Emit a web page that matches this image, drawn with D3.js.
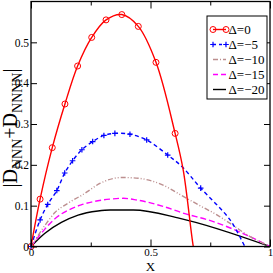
<!DOCTYPE html>
<html>
<head>
<meta charset="utf-8">
<script src="https://cdn.jsdelivr.net/npm/d3@7"></script>
<style>
  html, body { margin: 0; padding: 0; background: #fff; }
  svg { display: block; font-family: "Liberation Serif", "DejaVu Serif", serif; }
</style>
</head>
<body>
<div id="chart"></div>
<script>
// series values
const d0MarkX = [0, 0.038, 0.089, 0.142, 0.195, 0.254, 0.314, 0.380, 0.449, 0.523, 0.603];
const d0MarkY = [0, 0.116, 0.242, 0.349, 0.442, 0.512, 0.555, 0.568, 0.539, 0.451, 0.277];
const d0TailX = [0.637, 0.679, 0.69];
const d0TailY = [0.187, 0, -0.03];

const d5MarkX = [0, 0.038, 0.070, 0.108, 0.141, 0.174, 0.213, 0.258, 0.305, 0.351, 0.414, 0.484, 0.572, 0.710];
const d5MarkY = [0, 0.065, 0.103, 0.137, 0.180, 0.210, 0.237, 0.257, 0.272, 0.277, 0.275, 0.261, 0.224, 0.143];
const d5ExtraX = [0.631, 0.833, 0.895, 0.91];
const d5ExtraY = [0.196, 0.065, 0, -0.015];

const d10X = [0, 0.06, 0.1, 0.155, 0.225, 0.29, 0.38, 0.45, 0.55, 0.63, 0.71, 0.77, 0.85, 0.90, 1];
const d10Y = [0, 0.053, 0.083, 0.106, 0.130, 0.155, 0.169, 0.167, 0.151, 0.125, 0.099, 0.08, 0.05, 0.03, 0];

const d15X = [0, 0.057, 0.1, 0.17, 0.21, 0.28, 0.33, 0.386, 0.442, 0.554, 0.63, 0.763, 0.902, 1];
const d15Y = [0, 0.042, 0.068, 0.093, 0.102, 0.112, 0.116, 0.118, 0.114, 0.098, 0.083, 0.061, 0.028, 0];

const d20X = [0, 0.057, 0.127, 0.197, 0.28, 0.331, 0.428, 0.623, 1];
const d20Y = [0, 0.032, 0.059, 0.077, 0.087, 0.0895, 0.0895, 0.069, 0];

const legendLabels = ["Δ=0", "Δ=−5", "Δ=−10", "Δ=−15", "Δ=−20"];
const xTicks = [0, 0.5, 1];
const xMinor = [0.25, 0.75];
const yTicks = [0, 0.1, 0.2, 0.3, 0.4, 0.5];

const W = 273, H = 273;
const plotL = 31, plotR = 270, plotT = 1.5, plotB = 246.5;

const x = d3.scaleLinear().domain([0, 1]).range([plotL, plotR]);
const y = d3.scaleLinear().domain([0, 0.6]).range([plotB, plotT]);

const svg = d3.select("#chart").append("svg").attr("width", W).attr("height", H);

svg.append("clipPath").attr("id", "clip")
  .append("rect").attr("x", plotL).attr("y", plotT).attr("width", plotR - plotL).attr("height", plotB - plotT);

const zip = (xs, ys) => xs.map((v, i) => [v, ys[i]]);
const byX = (a, b) => a[0] - b[0];
const line = d3.line().x(d => x(d[0])).y(d => y(d[1])).curve(d3.curveMonotoneX);
const lineCR = d3.line().x(d => x(d[0])).y(d => y(d[1])).curve(d3.curveCatmullRom.alpha(0.5));

const plot = svg.append("g").attr("clip-path", "url(#clip)");

const series = [
  { pts: zip(d20X, d20Y), color: "#000000", dash: null, gen: line },
  { pts: zip(d15X, d15Y), color: "#ff00ff", dash: "6,3", gen: line },
  { pts: zip(d10X, d10Y), color: "#bc8f8f", dash: "5,2,1,2,1,2", gen: line },
  { pts: zip(d5MarkX, d5MarkY).concat(zip(d5ExtraX, d5ExtraY)).sort(byX), color: "#0000ff", dash: "4,3", gen: lineCR },
  { pts: zip(d0MarkX, d0MarkY).concat(zip(d0TailX, d0TailY)), color: "#ff0000", dash: null, gen: lineCR }
];

series.forEach(s => {
  plot.append("path")
    .attr("d", s.gen(s.pts))
    .attr("fill", "none")
    .attr("stroke", s.color)
    .attr("stroke-width", 1.4)
    .attr("stroke-dasharray", s.dash);
});

// blue plus markers
const plus = (g, cx, cy, r, color) => g.append("path")
  .attr("d", `M${cx - r},${cy}H${cx + r}M${cx},${cy - r}V${cy + r}`)
  .attr("stroke", color).attr("stroke-width", 1.2).attr("fill", "none");

zip(d5MarkX, d5MarkY).forEach(d => plus(svg, x(d[0]), y(d[1]), 2.8, "#0000ff"));

// red circle markers
svg.append("g").selectAll("circle")
  .data(zip(d0MarkX, d0MarkY))
  .join("circle")
  .attr("cx", d => x(d[0]))
  .attr("cy", d => y(d[1]))
  .attr("r", 3)
  .attr("fill", "none")
  .attr("stroke", "#ff0000")
  .attr("stroke-width", 1);

// frame
svg.append("rect")
  .attr("x", plotL).attr("y", plotT).attr("width", plotR - plotL).attr("height", plotB - plotT)
  .attr("fill", "none").attr("stroke", "#000").attr("stroke-width", 1.3);

// inward ticks on all four sides
const gx = svg.append("g").attr("transform", `translate(0,${plotB})`)
  .call(d3.axisBottom(x).tickValues(xTicks).tickSize(-7).tickFormat(d3.format("")));
const gxm = svg.append("g").attr("transform", `translate(0,${plotB})`)
  .call(d3.axisBottom(x).tickValues(xMinor).tickSize(-4).tickFormat(""));
const gxt = svg.append("g").attr("transform", `translate(0,${plotT})`)
  .call(d3.axisTop(x).tickValues(xTicks).tickSize(-7).tickFormat(""));
const gxtm = svg.append("g").attr("transform", `translate(0,${plotT})`)
  .call(d3.axisTop(x).tickValues(xMinor).tickSize(-4).tickFormat(""));
const gy = svg.append("g").attr("transform", `translate(${plotL},0)`)
  .call(d3.axisLeft(y).tickValues(yTicks).tickSize(-6).tickFormat(d3.format("")));
const gyr = svg.append("g").attr("transform", `translate(${plotR},0)`)
  .call(d3.axisRight(y).tickValues(yTicks).tickSize(-6).tickFormat(""));

[gx, gxm, gxt, gxtm, gy, gyr].forEach(g => {
  g.select(".domain").remove();
  g.selectAll("line").attr("stroke", "#000").attr("stroke-width", 1);
});
gx.selectAll("text").attr("font-family", "Liberation Serif").attr("font-size", 11)
  .attr("fill", "#000").attr("y", 2).attr("dy", "0.71em");
gy.selectAll("text").attr("font-family", "Liberation Serif").attr("font-size", 11.5)
  .attr("fill", "#000").attr("x", -2).attr("dy", "0.33em");

// axis titles
svg.append("text")
  .attr("x", (plotL + plotR) / 2).attr("y", 270.5)
  .attr("text-anchor", "middle")
  .attr("font-size", 13).attr("fill", "#000")
  .text("X");

const yl = svg.append("text")
  .attr("transform", `translate(17,128) rotate(-90)`)
  .attr("text-anchor", "middle")
  .attr("font-size", 20).attr("fill", "#000");
yl.append("tspan").text("|D");
yl.append("tspan").attr("font-size", 14).attr("dy", 5).text("NNN");
yl.append("tspan").attr("dy", -5).text("+D");
yl.append("tspan").attr("font-size", 14).attr("dy", 5).text("NNNN");
yl.append("tspan").attr("dy", -5).text("|");

// legend
const lg = svg.append("g");
lg.append("rect").attr("x", 207).attr("y", 16).attr("width", 60).attr("height", 83)
  .attr("fill", "#fff").attr("stroke", "#000").attr("stroke-width", 1);

const legendStyle = [
  { color: "#ff0000", dash: null, mark: "circle" },
  { color: "#0000ff", dash: "3,3", mark: "plus" },
  { color: "#bc8f8f", dash: "5,2,1,2", mark: null },
  { color: "#ff00ff", dash: "5,3", mark: null },
  { color: "#000000", dash: null, mark: null }
];
legendLabels.forEach((lab, i) => {
  const ly = 29.5 + i * 15;
  const st = legendStyle[i];
  lg.append("line").attr("x1", 213).attr("x2", 226).attr("y1", ly).attr("y2", ly)
    .attr("stroke", st.color).attr("stroke-width", 1.4).attr("stroke-dasharray", st.dash);
  if (st.mark === "circle") {
    [213, 226].forEach(cx => lg.append("circle").attr("cx", cx).attr("cy", ly).attr("r", 3)
      .attr("fill", "none").attr("stroke", st.color).attr("stroke-width", 1));
  } else if (st.mark === "plus") {
    [213, 226].forEach(cx => plus(lg, cx, ly, 2.8, st.color));
  }
  lg.append("text").attr("x", 228.5).attr("y", ly).attr("dy", "0.35em")
    .attr("font-size", 13).attr("fill", "#000").text(lab);
});
</script>
</body>
</html>
